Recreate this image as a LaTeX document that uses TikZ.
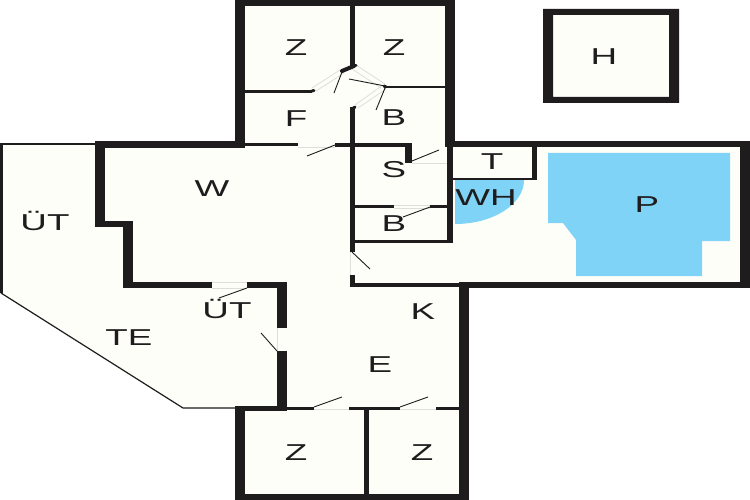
\documentclass[tikz,border=0pt]{standalone}
\usepackage{fontspec}
\setmainfont[FakeStretch=1.6]{Liberation Sans}
\definecolor{wallc}{HTML}{1F1C1D}
\definecolor{floorc}{HTML}{FEFEF9}
\definecolor{poolc}{HTML}{7FD3F7}
\definecolor{gapc}{HTML}{DEDEDA}
\tikzset{
  wall/.style={fill=wallc},
  leaf/.style={draw=wallc,line width=0.9pt},
  gapline/.style={draw=gapc,line width=0.8pt},
  stub/.style={draw=wallc,line width=4pt,line cap=round},
  roomlabel/.style={text=wallc,inner sep=0pt,font=\fontsize{23}{23}\selectfont},
}
\newcommand{\wl}[4]{\fill[wall] (#1,#2) rectangle (#3,#4);}
\begin{document}
\begin{tikzpicture}[x=1pt,y=-1pt]
\useasboundingbox (0,0) rectangle (750,500);
\fill[white] (0,0) rectangle (750,500);
% floors
\fill[floorc] (235,0) -- (455,0) -- (455,141) -- (750,141) -- (750,288) -- (469,288) -- (469,500) -- (235,500) -- (235,409) -- (183,409) -- (0,293) -- (0,143) -- (235,143) -- cycle;
\fill[floorc] (543,9) rectangle (679,103);
% blue areas
\fill[poolc] (548,153) -- (730,153) -- (730,241) -- (702,241) -- (702,276) -- (576,276) -- (576,240) -- (563,223) -- (548,223) -- cycle;
\fill[poolc] (455,180) -- (524,180) arc[start angle=0,end angle=90,x radius=69pt,y radius=-44pt] -- cycle;
% door openings, pale
\draw[gapline] (298,147) -- (335,147);
\draw[gapline] (412,163) -- (447,163);
\draw[gapline] (394,205) -- (430,205) (394,208) -- (430,208);
\draw[gapline] (350,252) -- (350,275);
\draw[gapline] (212,282) -- (247,282) (212,288) -- (247,288);
\draw[gapline] (277,328) -- (277,351);
\draw[gapline] (314,409) -- (349,409);
\draw[gapline] (400,409) -- (436,409);
\draw[gapline] (312,88) -- (340,70) (316,91) -- (344,73);
\draw[gapline] (356,65) -- (385,84) (352,69) -- (381,88);
\draw[gapline] (355,105) -- (383,85) (358,108) -- (386,89);
% upper block walls
\wl{235}{0}{455}{6}
\wl{235}{0}{245}{147}
\wl{445}{0}{455}{147}
\wl{350}{6}{355}{66}
\wl{245}{90}{312}{93}
\wl{385}{86}{445}{88.5}
\wl{350}{107}{355}{252}
\draw[stub] (342,71) -- (354,66);
\draw[stub,line width=3pt] (312,91) -- (314,90.5);
\draw[stub,line width=3pt] (354,66) -- (356,66);
\draw[stub,line width=3pt] (384,86) -- (386,87);
\draw[stub,line width=3pt] (352,109) -- (355,107);
% horizontal along floor line
\wl{95}{141}{245}{148}
\wl{245}{143}{298}{146}
\wl{335}{143}{410}{147}
\wl{405}{143}{412}{163}
\wl{447}{147}{453}{242}
\wl{350}{240}{453}{242.5}
\wl{355}{205}{394}{208}
\wl{430}{205}{447}{208}
\wl{447}{141}{750}{147}
\wl{532}{147}{537}{180}
\wl{453}{178}{537}{180}
\wl{740}{141}{750}{288}
\wl{459}{282}{750}{288}
\wl{350}{275}{355}{287}
\wl{350}{283}{460}{287}
% left walls
\wl{95}{141}{105}{227}
\wl{95}{221}{133}{227}
\wl{123}{221}{133}{288}
\wl{123}{282}{212}{288}
\wl{247}{282}{287}{288}
\wl{277}{282}{287}{328}
\wl{277}{351}{287}{411}
% lower block
\wl{235}{406}{287}{411}
\wl{235}{406}{245}{500}
\wl{235}{494}{469}{500}
\wl{459}{282}{469}{500}
\wl{364}{407}{369}{494}
\wl{287}{407}{314}{410}
\wl{349}{407}{400}{410}
\wl{436}{407}{459}{410}
% terrace outline
\wl{0}{143}{95}{145}
\wl{0}{143}{3}{293}
\draw[draw=wallc,line width=1.2pt] (1,293) -- (183,408) -- (235,408);
% outbuilding
\fill[wall,even odd rule] (543,9) rectangle (679,103) (553,15) rectangle (669,97);
% door leaves
\draw[leaf] (307,156) -- (335,145);
\draw[leaf] (412,161) -- (439,150);
\draw[leaf] (403,217) -- (430,207);
\draw[leaf] (352,252) -- (370,269);
\draw[leaf] (219,298) -- (247,288);
\draw[leaf] (261,333) -- (277,351);
\draw[leaf] (314,407) -- (342,397);
\draw[leaf] (400,407) -- (428,397);
\draw[leaf] (334,93) -- (342,72);
\draw[leaf] (349,79) -- (385,86);
\draw[leaf] (376,110) -- (385,88);
% labels
\node[roomlabel] (z1) at (296,48) {Z};
\node[roomlabel] (z2) at (394,48) {Z};
\node[roomlabel] (f) at (296,119) {F};
\node[roomlabel] (b1) at (394,118) {B};
\node[roomlabel] (w) at (212,189) {W};
\node[roomlabel] (s) at (394,170) {S};
\node[roomlabel] (t) at (492,162) {T};
\node[roomlabel] (wh) at (486,198) {WH};
\node[roomlabel] (b2) at (394,224) {B};
\node[roomlabel] (p) at (647,205) {P};
\node[roomlabel] (h) at (604,57) {H};
\node[roomlabel] (ut1) at (45,221) {ÜT};
\node[roomlabel] (ut2) at (227,309) {ÜT};
\node[roomlabel] (te) at (129,338) {TE};
\node[roomlabel] (k) at (423,312) {K};
\node[roomlabel] (e) at (380,365) {E};
\node[roomlabel] (z3) at (296,453) {Z};
\node[roomlabel] (z4) at (422,453) {Z};
\end{tikzpicture}
\end{document}
